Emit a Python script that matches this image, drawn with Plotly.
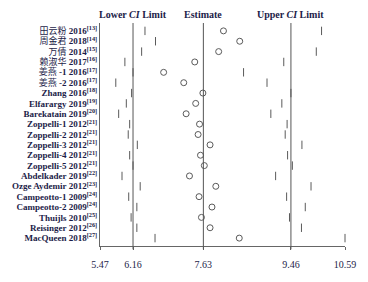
import re
import plotly.graph_objects as go

studies = ["田云粉 2016", "周金君 2018", "万倩 2014", "赖淑华 2017", "姜燕 -1 2016", "姜燕 -2 2016",
           "Zhang 2016", "Elfarargy 2019", "Barekatain 2019", "Zoppelli-1 2012", "Zoppelli-2 2012",
           "Zoppelli-3 2012", "Zoppelli-4 2012", "Zoppelli-5 2012", "Abdelkader 2019",
           "Ozge Aydemir 2012", "Campeotto-1 2009", "Campeotto-2 2009", "Thuijls 2010",
           "Reisinger 2012", "MacQueen 2018"]
refs = ["13", "14", "15", "16", "17", "17", "18", "19", "20", "21", "21", "21", "21", "21",
        "22", "23", "24", "24", "25", "26", "27"]
lower = [6.41, 6.63, 6.34, 5.99, 6.16, 5.80, 6.13, 6.02, 5.86, 6.09, 6.06, 6.25, 6.09, 6.16,
         5.93, 6.31, 6.07, 6.24, 6.12, 6.24, 6.62]
estimate = [8.05, 8.39, 7.95, 7.45, 6.80, 7.22, 7.62, 7.47, 7.27, 7.55, 7.52, 7.77, 7.57, 7.65,
            7.34, 7.89, 7.54, 7.81, 7.59, 7.77, 8.38]
upper = [10.10, 10.60, 9.99, 9.31, 8.47, 8.96, 9.46, 9.27, 9.04, 9.38, 9.34, 9.69, 9.39, 9.49,
         9.14, 9.88, 9.37, 9.76, 9.43, 9.68, 10.59]
ref_lines = [6.16, 7.63, 9.46]
ref_titles = ["Lower <i>CI</i> Limit", "Estimate", "Upper <i>CI</i> Limit"]
x_ticks = [5.47, 6.16, 7.63, 9.46, 10.59]

txt = "#1c1c48"
mk = "#5a5a5a"
serif = "Liberation Serif, Noto Sans CJK SC, serif"


def fmt_label(name, ref):
    # CJK characters drawn at normal weight (Song-like in the reference), Latin parts bold
    m = re.match(r"^([\u4e00-\u9fff]+)(.*)$", name)
    if m:
        return f"{m.group(1)}<b>{m.group(2)}<sup>[{ref}]</sup></b>"
    return f"<b>{name}<sup>[{ref}]</sup></b>"


ypos = list(range(len(studies)))
labels = [fmt_label(s, r) for s, r in zip(studies, refs)]

fig = go.Figure()
fig.add_trace(go.Scatter(x=lower, y=ypos, mode="markers",
                         marker=dict(symbol="line-ns", size=6, line=dict(color=mk, width=1)),
                         cliponaxis=False, showlegend=False))
fig.add_trace(go.Scatter(x=upper, y=ypos, mode="markers",
                         marker=dict(symbol="line-ns", size=6, line=dict(color=mk, width=1)),
                         cliponaxis=False, showlegend=False))
fig.add_trace(go.Scatter(x=estimate, y=ypos, mode="markers",
                         marker=dict(symbol="circle-open", size=6, color=mk, line=dict(color=mk, width=1)),
                         cliponaxis=False, showlegend=False))

for v, t in zip(ref_lines, ref_titles):
    fig.add_shape(type="line", xref="x", yref="paper", x0=v, x1=v, y0=-0.015, y1=1,
                  line=dict(color="#555555", width=1))
    fig.add_annotation(x=v, xref="x", y=1.04, yref="paper", text=f"<b>{t}</b>",
                       showarrow=False, xanchor="center", yanchor="middle",
                       font=dict(family=serif, size=10, color=txt))

n = len(studies)
fig.update_layout(
    width=368, height=282,
    margin=dict(l=82, r=21, t=23, b=33),
    paper_bgcolor="white", plot_bgcolor="white",
    xaxis=dict(range=[5.47, 10.59], tickvals=x_ticks, ticktext=[f"{v:.2f}" for v in x_ticks],
               showgrid=False, zeroline=False, showline=True, linecolor="#666666", linewidth=1,
               ticks="outside", ticklen=3, tickcolor="#666666", ticklabelstandoff=6,
               tickfont=dict(family=serif, size=10, color=txt)),
    yaxis=dict(range=[n - 1 + 0.76, -0.76], tickvals=ypos, ticktext=labels,
               showgrid=False, zeroline=False, showline=True, linecolor="#666666", linewidth=1,
               ticks="", tickfont=dict(family=serif, size=9, color=txt)),
)

fig.write_html("out.html")
